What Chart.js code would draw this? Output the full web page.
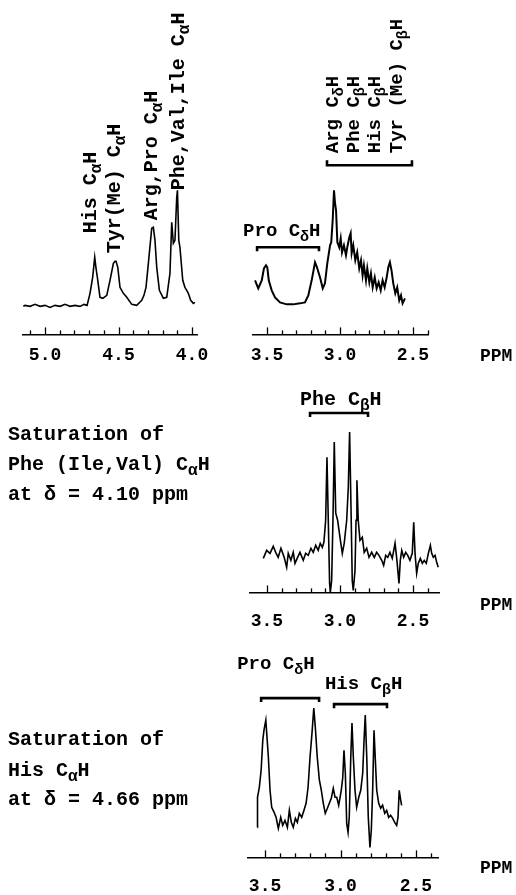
<!DOCTYPE html>
<html>
<head>
<meta charset="utf-8">
<script src="https://cdn.jsdelivr.net/npm/chart.js@4.4.1/dist/chart.umd.min.js"></script>
<style>
  html, body { margin: 0; padding: 0; background: #fff; width: 516px; height: 895px; overflow: hidden; }
  canvas { position: absolute; }
</style>
</head>
<body>
<canvas id="alpha"></canvas>
<canvas id="beta"></canvas>
<canvas id="satPhe"></canvas>
<canvas id="satHis"></canvas>
<script>
/* reference spectrum, C-alpha H region */
const alphaPpm = [5.148,5.136,5.102,5.068,5.034,5.000,4.966,4.932,4.898,4.864,4.830,4.796,4.762,4.735,4.714,4.694,4.676,4.662,4.653,4.644,
  4.626,4.607,4.580,4.558,4.535,4.524,4.517,4.505,4.490,4.467,4.444,4.410,4.376,4.342,4.327,4.313,4.297,4.274,4.263,4.252,
  4.240,4.222,4.195,4.172,4.150,4.138,4.127,4.116,4.104,4.099,4.090,4.082,4.063,4.048,4.036,4.025,4.009,3.991,3.980];
const alphaInt = [0,1,0,2,0,1,-1,1,0,2,0,1,0,2,1,13,29,49,38,29,
  9,8,11,26,43,45,45,39,19,13,9,2,1,6,11,19,43,78,79,66,
  39,16,8,9,33,84,63,66,109,116,66,59,26,19,16,13,6,3,4];

/* reference spectrum, 2.5 - 3.5 ppm region */
const betaPpm = [3.582,3.560,3.536,3.521,3.507,3.498,3.488,3.468,3.445,3.411,3.365,3.320,3.274,3.240,3.217,3.194,3.171,3.160,3.137,3.118,
  3.103,3.087,3.068,3.060,3.050,3.041,3.034,3.027,3.018,3.005,2.995,2.986,2.973,2.959,2.950,2.936,2.927,2.920,2.909,2.895,
  2.882,2.868,2.856,2.845,2.836,2.822,2.813,2.799,2.788,2.776,2.762,2.749,2.735,2.721,2.708,2.694,2.680,2.669,2.658,2.647,
  2.635,2.621,2.608,2.594,2.582,2.571,2.555];
const betaInt = [26,18,26,38,41,39,26,16,9,4,2,2,3,4,11,26,44,40,29,18,
  23,43,61,64,86,116,103,96,64,59,68,54,61,51,59,69,73,53,61,46,
  54,38,46,31,41,26,38,24,33,19,29,18,24,16,26,19,29,39,44,36,
  23,13,19,6,11,3,8];

/* difference spectrum, saturation at 4.10 ppm */
const phePpm = [3.525,3.502,3.479,3.457,3.440,3.423,3.404,3.382,3.365,3.354,3.336,3.320,3.308,3.290,3.274,3.251,3.235,3.217,3.199,3.183,
  3.166,3.149,3.135,3.121,3.110,3.098,3.089,3.080,3.071,3.066,3.057,3.048,3.039,3.029,3.016,3.000,2.984,2.971,2.954,2.943,
  2.934,2.925,2.916,2.909,2.897,2.890,2.884,2.875,2.863,2.847,2.834,2.817,2.801,2.783,2.765,2.749,2.733,2.714,2.701,2.687,
  2.673,2.658,2.642,2.623,2.610,2.596,2.587,2.577,2.564,2.550,2.536,2.521,2.505,2.495,2.486,2.475,2.464,2.450,2.436,2.423,
  2.409,2.395,2.381,2.372,2.361,2.349,2.336,2.327];
const pheInt = [-3,5,2,9,3,-2,7,-2,-12,2,-5,3,-8,-2,3,-5,2,0,7,3,
  10,5,12,8,13,35,98,35,-28,-37,-25,35,113,42,35,18,2,12,35,68,
  123,52,-25,-35,-15,35,75,35,15,18,3,7,-2,3,-2,3,0,-5,-10,0,
  -2,3,-3,12,-5,-28,-5,5,-2,3,0,-5,2,33,2,-18,-8,-3,-8,-5,
  -8,2,10,2,-2,0,-8,-12];

/* difference spectrum, saturation at 4.66 ppm */
const hisPpm = [3.551,3.550,3.538,3.526,3.515,3.507,3.495,3.489,3.478,3.467,3.456,3.440,3.427,3.412,3.396,3.383,3.368,3.352,3.339,3.326,
  3.313,3.299,3.286,3.273,3.257,3.242,3.228,3.215,3.202,3.189,3.177,3.167,3.154,3.140,3.127,3.114,3.101,3.087,3.074,3.061,
  3.048,3.036,3.025,3.012,3.003,2.995,2.985,2.977,2.968,2.959,2.950,2.942,2.932,2.924,2.915,2.904,2.893,2.879,2.866,2.853,
  2.844,2.836,2.826,2.816,2.805,2.796,2.787,2.778,2.770,2.760,2.747,2.734,2.721,2.707,2.694,2.681,2.668,2.654,2.641,2.628,
  2.619,2.611,2.601,2.595];
const hisInt = [-7,23,33,50,80,90,100,87,63,30,13,8,3,-8,3,-5,0,-7,10,-2,
  -7,2,-2,7,3,10,17,33,63,87,112,93,63,40,30,17,7,12,17,22,
  32,23,23,15,23,30,43,70,47,-3,-12,3,63,97,63,30,13,23,30,47,
  80,105,63,3,-27,-10,30,90,63,30,17,12,15,7,10,3,5,2,-2,-5,
  3,30,20,15];

/* axis ticks (every 0.1 ppm) and the labelled ones */
const alphaTicks = [4.0,4.1,4.2,4.3,4.4,4.5,4.6,4.7,4.8,4.9,5.0,5.1];
const alphaMajor = [4.0,4.5,5.0];
const betaTicks = [2.4,2.5,2.6,2.7,2.8,2.9,3.0,3.1,3.2,3.3,3.4,3.5];
const betaMajor = [2.5,3.0,3.5];

/* assignment brackets: [from ppm, to ppm] */
const betaGroup = [3.089, 2.507];
const proDelta = [3.568, 3.144];
const pheBeta = [3.205, 2.808];
const proDelta2 = [3.526, 3.142];
const hisBeta = [3.043, 2.692];

const FONT = '"Liberation Mono", "Courier New", monospace';

// '_' puts the next character in subscript
function drawRich(ctx, str, size) {
    let x = 0;
    for (let i = 0; i < str.length; i++) {
        let ch = str[i];
        let sub = false;
        if (ch === '_') { sub = true; ch = str[++i]; }
        ctx.font = 'bold ' + (sub ? Math.round(size * 0.8) : size) + 'px ' + FONT;
        ctx.fillText(ch, x, sub ? Math.round(size * 0.25) : 0);
        x += ctx.measureText(ch).width;
    }
}

function notesPlugin(notes, left, top) {
    return {
        id: 'notes',
        afterDraw(chart) {
            const ctx = chart.ctx;
            const sx = chart.scales.x, sy = chart.scales.y;
            ctx.save();
            ctx.fillStyle = '#000';
            ctx.textAlign = 'left';
            ctx.textBaseline = 'alphabetic';
            notes.forEach(n => {
                ctx.save();
                if (n.page) ctx.translate(n.page[0] - left, n.page[1] - top);
                else ctx.translate(sx.getPixelForValue(n.x), sy.getPixelForValue(n.y));
                if (n.rot) ctx.rotate(-Math.PI / 2);
                drawRich(ctx, n.text, n.size);
                ctx.restore();
            });
            // small tick marks sit above the axis line
            const y0 = chart.chartArea.bottom;
            ctx.strokeStyle = '#000';
            ctx.lineWidth = 1.3;
            sx.ticks.forEach(t => {
                const px = Math.round(sx.getPixelForValue(t.value)) + 0.5;
                ctx.beginPath();
                ctx.moveTo(px, y0);
                ctx.lineTo(px, y0 - (t.label ? 7 : 4));
                ctx.stroke();
            });
            ctx.restore();
        }
    };
}

function bracket(range, level, hook) {
    return {
        data: [
            {x: range[0], y: level + hook}, {x: range[0], y: level},
            {x: range[1], y: level}, {x: range[1], y: level + hook}
        ],
        borderColor: '#000', borderWidth: 2.6, pointRadius: 0, tension: 0, fill: false
    };
}

function spectrum(ppm, ints, width) {
    return {
        data: ppm.map((p, i) => ({x: p, y: ints[i]})),
        borderColor: '#000', borderWidth: width, pointRadius: 0, tension: 0, fill: false
    };
}

function makePanel(p) {
    const canvas = document.getElementById(p.id);
    canvas.width = p.width;
    canvas.height = p.height;
    canvas.style.left = p.left + 'px';
    canvas.style.top = p.top + 'px';

    new Chart(canvas, {
        type: 'line',
        data: { datasets: p.datasets },
        options: {
            responsive: false,
            animation: false,
            events: [],
            layout: { autoPadding: false, padding: { left: p.padL, right: p.padR, top: 0, bottom: 0 } },
            plugins: { legend: { display: false }, tooltip: { enabled: false } },
            scales: {
                x: {
                    type: 'linear',
                    reverse: true,
                    min: p.xMin,
                    max: p.xMax,
                    afterBuildTicks: s => { s.ticks = p.ticks.map(v => ({ value: v })); },
                    ticks: {
                        autoSkip: false,
                        maxRotation: 0,
                        padding: p.tickPad,
                        color: '#000',
                        font: { family: FONT, size: 18, weight: 'bold' },
                        callback: v => p.major.includes(Math.round(v * 10) / 10) ? v.toFixed(1) : ''
                    },
                    grid: { display: false, drawTicks: false },
                    border: { display: true, color: '#000', width: 1.5 }
                },
                y: { display: false, min: p.yMin, max: p.yMax }
            }
        },
        plugins: [notesPlugin(p.notes, p.left, p.top)]
    });
}

makePanel({
    id: 'alpha', left: 0, top: 0, width: 225, height: 376, padL: 23, padR: 28, tickPad: 10,
    xMin: 3.966, xMax: 5.150, yMin: -28, yMax: 306,
    ticks: alphaTicks, major: alphaMajor,
    datasets: [spectrum(alphaPpm, alphaInt, 1.6)],
    notes: [
        { x: 4.653, y: 73, rot: true, size: 20, text: 'His C_αH' },
        { x: 4.490, y: 53, rot: true, size: 20, text: 'Tyr(Me) C_αH' },
        { x: 4.238, y: 86, rot: true, size: 20, text: 'Arg,Pro C_αH' },
        { x: 4.054, y: 116, rot: true, size: 20, text: 'Phe,Val,Ile C_αH' }
    ]
});

makePanel({
    id: 'beta', left: 225, top: 0, width: 291, height: 376, padL: 28, padR: 88, tickPad: 10,
    xMin: 2.397, xMax: 3.596, yMin: -28, yMax: 306,
    ticks: betaTicks, major: betaMajor,
    datasets: [spectrum(betaPpm, betaInt, 2), bracket(betaGroup, 141, 5), bracket(proDelta, 59, -4)],
    notes: [
        { x: 3.014, y: 153, rot: true, size: 19, text: 'Arg C_δH' },
        { x: 2.873, y: 153, rot: true, size: 19, text: 'Phe C_βH' },
        { x: 2.726, y: 153, rot: true, size: 19, text: 'His C_βH' },
        { x: 2.577, y: 153, rot: true, size: 19, text: 'Tyr (Me) C_βH' },
        { x: 3.664, y: 70, size: 19, text: 'Pro C_δH' },
        { page: [480, 361], size: 18, text: 'PPM' }
    ]
});

makePanel({
    id: 'satPhe', left: 0, top: 375, width: 516, height: 275, padL: 250, padR: 77, tickPad: 18,
    xMin: 2.322, xMax: 3.616, yMin: -37, yMax: 180,
    ticks: betaTicks, major: betaMajor,
    datasets: [spectrum(phePpm, pheInt, 1.6), bracket(pheBeta, 142, -4)],
    notes: [
        { x: 3.274, y: 150, size: 20, text: 'Phe C_βH' },
        { page: [8, 440], size: 20, text: 'Saturation of' },
        { page: [8, 470], size: 20, text: 'Phe (Ile,Val) C_αH' },
        { page: [8, 500], size: 20, text: 'at δ = 4.10 ppm' },
        { page: [480, 610], size: 18, text: 'PPM' }
    ]
});

makePanel({
    id: 'satHis', left: 0, top: 640, width: 516, height: 275, padL: 248, padR: 78, tickPad: 18,
    xMin: 2.354, xMax: 3.613, yMin: -37, yMax: 180,
    ticks: betaTicks, major: betaMajor,
    datasets: [spectrum(hisPpm, hisInt, 1.6), bracket(proDelta2, 122, -4), bracket(hisBeta, 116, -4)],
    notes: [
        { x: 3.685, y: 151, size: 19, text: 'Pro C_δH' },
        { x: 3.103, y: 131, size: 19, text: 'His C_βH' },
        { page: [8, 745], size: 20, text: 'Saturation of' },
        { page: [8, 776], size: 20, text: 'His C_αH' },
        { page: [8, 805], size: 20, text: 'at δ = 4.66 ppm' },
        { page: [480, 873], size: 18, text: 'PPM' }
    ]
});
</script>
</body>
</html>
